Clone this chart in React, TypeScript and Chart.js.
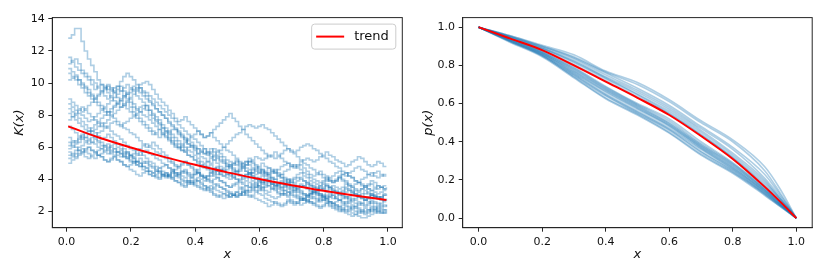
import React, { useEffect, useRef } from 'react';
import { Chart, registerables } from 'chart.js';
Chart.register(...registerables);

const FONT = "'DejaVu Sans', sans-serif";
const BLUE = 'rgba(31,119,180,0.36)';
const RED = '#ff0000';

// ---- Left panel: K(x) step paths (100 bins, centres 0.005 ... 0.995) ----
const KX = Array.from({ length: 100 }, (_, i) => Math.round((0.005 + 0.01 * i) * 1000) / 1000);

const K1 = [12.8,13.0,13.4,13.4,12.6,12.0,11.5,11.1,10.7,10.2,9.9,9.8,9.6,9.5,9.7,9.8,9.5,9.2,9.0,8.8,8.5,8.3,8.5,8.6,8.3,8.0,7.8,7.6,7.4,7.2,7.0,6.9,7.1,7.1,6.8,6.6,6.4,6.2,6.1,6.0,5.9,5.8,5.6,5.5,5.7,5.9,5.8,5.6,5.4,5.2,5.1,5.0,4.9,4.8,5.0,5.1,4.9,4.7,4.5,4.4,4.3,4.2,4.4,4.5,4.4,4.3,4.1,4.0,3.9,3.8,4.0,4.1,4.0,3.9,3.7,3.6,3.5,3.4,3.6,3.7,3.6,3.5,3.3,3.2,3.1,3.0,3.2,3.3,3.2,3.1,3.0,2.9,3.1,3.2,3.1,3.0,2.9,2.8,3.0,3.1];
const K2 = [11.6,11.3,11.0,10.8,10.6,10.4,10.2,9.9,9.6,9.8,9.9,9.7,9.4,9.1,8.9,8.7,8.5,8.6,8.8,8.5,8.2,8.0,7.8,7.6,7.4,7.2,7.0,6.8,6.6,6.8,6.9,6.6,6.4,6.2,6.0,5.8,5.7,5.5,5.4,5.2,5.0,4.8,4.7,4.8,4.9,4.7,4.5,4.3,4.2,4.3,4.4,4.2,4.0,3.9,3.8,3.9,4.1,3.9,3.7,3.5,3.4,3.5,3.6,3.4,3.3,3.1,3.0,3.1,3.2,3.0,2.9,2.8,2.7,2.8,3.0,2.9,2.8,2.7,2.6,2.7,2.8,2.6,2.5,2.4,2.3,2.4,2.6,2.5,2.4,2.3,2.2,2.1,2.0,2.1,2.3,2.2,2.1,2.0,1.9,2.0];
const K3 = [11.2,11.4,11.5,11.2,10.8,10.6,10.4,10.2,10.0,9.7,9.5,9.2,9.0,9.2,9.4,9.6,9.8,9.5,9.3,9.0,8.7,8.4,8.2,8.4,8.6,8.3,8.0,7.7,7.5,7.2,7.0,6.8,6.6,6.4,6.2,6.0,5.8,6.0,6.1,5.9,5.6,5.4,5.3,5.1,5.0,5.2,5.4,5.2,5.1,4.9,4.8,4.6,4.5,4.6,4.7,4.5,4.3,4.1,4.0,4.1,4.2,4.0,3.9,3.7,3.6,3.7,3.8,3.6,3.5,3.4,3.3,3.4,3.6,3.5,3.4,3.2,3.1,3.0,2.9,3.0,3.2,3.1,3.0,2.8,2.7,2.6,2.5,2.6,2.8,2.7,2.6,2.5,2.4,2.5,2.7,2.6,2.5,2.4,2.3,2.4];
const K4 = [10.9,10.7,10.5,10.2,10.0,9.8,9.6,9.3,9.1,9.3,9.5,9.7,9.9,9.7,9.5,9.8,10.1,10.4,10.6,10.4,10.2,9.9,9.7,9.4,9.2,8.9,8.7,8.4,8.2,8.0,7.8,7.5,7.3,7.1,6.9,6.7,6.5,6.2,6.0,5.8,5.6,5.7,5.9,5.6,5.4,5.2,5.0,4.8,4.7,4.8,4.9,4.7,4.5,4.3,4.2,4.3,4.4,4.2,4.0,3.9,3.7,3.8,3.9,3.7,3.6,3.5,3.4,3.5,3.7,3.6,3.5,3.3,3.2,3.1,3.0,3.1,3.3,3.2,3.1,2.9,2.8,2.9,3.0,2.8,2.7,2.8,2.9,2.7,2.6,2.5,2.4,2.5,2.7,2.6,2.5,2.3,2.2,2.3,2.4,2.3];
const K5 = [10.6,10.4,10.2,9.9,9.7,9.4,9.2,9.0,8.8,8.6,8.4,8.2,8.0,8.2,8.5,8.7,8.9,9.1,9.3,9.4,9.6,9.7,9.9,10.0,10.1,9.9,9.6,9.3,9.0,8.8,8.6,8.3,8.1,7.8,7.6,7.7,7.9,7.6,7.4,7.2,7.0,6.8,6.6,6.7,6.9,6.6,6.4,6.2,6.0,5.8,5.7,5.5,5.3,5.1,5.0,5.1,5.3,5.1,4.9,4.7,4.6,4.4,4.3,4.4,4.6,4.4,4.3,4.1,4.0,3.9,3.8,3.9,4.1,3.9,3.8,3.7,3.6,3.5,3.4,3.5,3.7,3.5,3.4,3.3,3.2,3.3,3.5,3.4,3.3,3.1,3.0,2.9,2.8,2.9,3.1,3.0,2.9,2.8,2.7,2.8];
const K6 = [10.2,10.3,10.4,10.2,9.9,9.7,9.4,9.2,9.0,8.8,8.6,8.4,8.2,8.0,7.8,7.6,7.4,7.2,7.1,6.9,6.8,6.6,6.4,6.2,6.0,6.1,6.3,6.1,5.9,5.7,5.5,5.3,5.1,4.9,4.8,4.9,5.1,4.9,4.7,4.5,4.4,4.2,4.1,4.2,4.4,4.2,4.1,3.9,3.8,3.6,3.5,3.6,3.7,3.5,3.4,3.3,3.2,3.3,3.5,3.4,3.3,3.1,3.0,2.9,2.8,2.9,3.1,3.0,2.9,2.7,2.6,2.5,2.4,2.5,2.7,2.6,2.5,2.6,2.8,2.7,2.6,2.5,2.4,2.3,2.2,2.1,2.0,2.1,2.3,2.2,2.1,2.0,1.9,2.0,2.2,2.1,2.0,2.1,2.1,2.0];
const K7 = [9.0,8.8,8.6,8.4,8.2,8.4,8.6,8.8,9.0,9.2,9.4,9.6,9.8,9.6,9.4,9.1,8.9,8.6,8.4,8.2,8.0,7.8,7.6,7.4,7.2,7.0,6.8,6.9,7.1,6.8,6.6,6.4,6.2,6.0,5.9,6.1,6.3,6.5,6.7,6.8,7.0,6.8,6.6,6.7,6.9,7.1,7.3,7.5,7.7,7.9,8.1,7.8,7.6,7.3,7.1,6.8,6.6,6.4,6.2,6.0,5.8,5.6,5.4,5.5,5.7,5.5,5.3,5.1,5.0,4.8,4.7,4.8,4.9,4.7,4.5,4.3,4.2,4.3,4.5,4.3,4.2,4.0,3.9,4.0,4.2,4.0,3.9,3.7,3.6,3.7,3.8,3.6,3.5,3.4,3.3,3.4,3.6,3.5,3.4,3.4];
const K8 = [8.7,8.5,8.3,8.1,8.0,7.8,7.6,7.7,7.9,8.1,8.3,8.5,8.7,8.9,9.1,9.3,9.5,9.7,9.9,9.7,9.5,9.2,9.0,8.8,8.6,8.3,8.1,7.9,7.7,7.4,7.2,7.0,6.8,6.6,6.4,6.2,6.0,5.8,5.7,5.5,5.3,5.1,5.0,5.1,5.3,5.5,5.7,5.8,6.0,6.2,6.4,6.6,6.8,6.9,7.1,7.3,7.4,7.3,7.2,7.3,7.4,7.2,7.1,6.9,6.7,6.5,6.3,6.1,5.9,5.7,5.6,5.4,5.2,5.0,4.9,4.7,4.6,4.4,4.3,4.1,4.0,3.9,3.8,3.9,4.1,3.9,3.8,3.6,3.5,3.4,3.3,3.4,3.6,3.4,3.3,3.2,3.1,3.2,3.3,3.3];
const K9 = [8.4,8.2,8.0,7.8,7.6,7.4,7.2,7.0,6.9,6.7,6.5,6.6,6.8,6.6,6.4,6.2,6.1,5.9,5.7,5.5,5.4,5.5,5.7,5.5,5.3,5.1,5.0,4.8,4.7,4.8,4.9,4.7,4.6,4.4,4.3,4.4,4.5,4.3,4.2,4.3,4.4,4.2,4.1,4.2,4.4,4.5,4.7,4.6,4.5,4.6,4.8,4.9,5.1,4.9,4.8,4.9,5.1,5.2,5.4,5.3,5.2,5.3,5.5,5.4,5.3,5.4,5.6,5.8,5.9,5.8,5.7,5.8,6.0,6.1,6.2,6.1,5.9,5.8,5.6,5.4,5.3,5.1,5.0,4.8,4.7,4.5,4.4,4.2,4.1,3.9,3.8,3.7,3.6,3.7,3.9,3.8,3.6,3.5,3.4,3.5];
const K10 = [8.1,7.9,7.7,7.5,7.3,7.1,7.0,6.8,6.6,6.4,6.3,6.1,6.0,5.8,5.7,5.5,5.4,5.5,5.7,5.5,5.3,5.1,5.0,4.8,4.7,4.5,4.4,4.5,4.7,4.5,4.4,4.2,4.1,4.2,4.4,4.2,4.1,3.9,3.8,3.9,4.1,4.0,3.9,4.0,4.2,4.3,4.5,4.3,4.2,4.1,4.0,4.1,4.3,4.2,4.0,4.1,4.3,4.4,4.6,4.5,4.4,4.5,4.7,4.6,4.5,4.6,4.8,4.9,5.0,4.9,4.8,4.9,5.1,5.2,5.3,5.2,5.1,5.2,5.4,5.5,5.7,5.5,5.4,5.2,5.1,5.0,4.8,4.9,5.1,5.2,5.4,5.3,5.1,4.9,4.8,4.9,5.1,5.0,4.8,4.8];
const K11 = [7.7,7.9,8.1,8.3,8.5,8.3,8.1,7.9,7.7,7.5,7.3,7.5,7.7,7.9,8.1,8.3,8.5,8.7,8.9,9.1,9.3,9.5,9.7,9.5,9.4,9.2,9.0,8.8,8.6,8.4,8.2,8.0,7.8,7.6,7.4,7.2,7.0,6.8,6.6,6.5,6.3,6.1,5.9,5.7,5.6,5.4,5.3,5.1,5.0,4.8,4.7,4.5,4.4,4.5,4.7,4.5,4.4,4.2,4.1,3.9,3.8,3.9,4.0,3.8,3.7,3.6,3.5,3.6,3.8,3.6,3.5,3.4,3.3,3.1,3.0,3.1,3.3,3.2,3.1,3.0,2.9,3.0,3.2,3.1,3.0,2.9,2.8,2.9,3.1,3.0,2.9,2.8,2.7,2.8,3.0,2.9,2.8,2.7,2.6,2.6];
const K12 = [7.3,7.1,6.9,6.7,6.6,6.4,6.2,6.3,6.5,6.3,6.1,6.0,5.8,5.6,5.5,5.7,5.8,5.6,5.4,5.2,5.1,4.9,4.8,5.0,5.1,4.9,4.8,4.6,4.5,4.3,4.2,4.3,4.5,4.3,4.2,4.0,3.9,3.8,3.7,3.8,3.9,3.8,3.6,3.5,3.4,3.5,3.7,3.5,3.4,3.3,3.2,3.1,3.0,3.1,3.3,3.1,3.0,2.9,2.8,2.7,2.6,2.5,2.3,2.4,2.6,2.5,2.4,2.5,2.7,2.6,2.5,2.6,2.8,2.7,2.6,2.5,2.4,2.3,2.2,2.3,2.5,2.4,2.3,2.2,2.1,2.0,1.9,1.8,1.7,1.8,2.0,1.9,1.8,1.9,2.1,2.0,1.9,1.9,2.0,2.0];
const K13 = [6.6,6.4,6.3,6.5,6.7,6.9,7.0,7.2,7.4,7.6,7.8,8.0,8.2,8.4,8.6,8.8,9.0,9.2,9.4,9.6,9.8,9.6,9.4,9.2,9.0,8.8,8.6,8.4,8.2,8.0,7.8,7.6,7.4,7.2,7.0,6.8,6.6,6.4,6.3,6.1,5.9,5.7,5.6,5.7,5.9,5.7,5.5,5.4,5.2,5.0,4.9,5.0,5.2,5.0,4.9,4.7,4.6,4.4,4.3,4.4,4.6,4.4,4.3,4.1,4.0,3.8,3.7,3.8,4.0,3.8,3.7,3.6,3.5,3.6,3.8,3.6,3.5,3.4,3.3,3.4,3.6,3.4,3.3,3.2,3.1,3.2,3.4,3.3,3.2,3.0,2.9,2.8,2.7,2.8,3.0,2.9,2.8,2.9,3.0,3.0];
const K14 = [6.3,6.1,6.0,5.8,5.7,5.8,6.0,5.8,5.7,5.5,5.4,5.2,5.1,5.2,5.4,5.2,5.1,4.9,4.8,4.9,5.1,4.9,4.8,4.6,4.5,4.3,4.2,4.3,4.5,4.3,4.2,4.3,4.5,4.6,4.8,5.0,5.1,4.9,4.8,4.6,4.5,4.3,4.2,4.0,3.9,3.7,3.6,3.5,3.4,3.2,3.1,3.0,2.9,3.0,3.2,3.0,2.9,3.0,3.2,3.3,3.5,3.6,3.8,3.7,3.6,3.7,3.9,3.7,3.6,3.5,3.4,3.5,3.7,3.6,3.5,3.3,3.2,3.1,3.0,2.9,2.7,2.6,2.5,2.6,2.7,2.5,2.4,2.3,2.2,2.3,2.5,2.4,2.3,2.4,2.6,2.5,2.4,2.5,2.7,2.7];
const K15 = [6.1,6.3,6.4,6.6,6.8,6.6,6.5,6.3,6.2,6.0,5.9,5.7,5.6,5.7,5.9,5.7,5.6,5.4,5.3,5.1,5.0,5.1,5.3,5.1,5.0,4.8,4.7,4.5,4.4,4.2,4.1,4.2,4.4,4.2,4.1,3.9,3.8,3.9,4.1,4.0,3.9,3.7,3.6,3.4,3.3,3.1,3.0,2.9,2.8,2.9,3.1,3.0,2.9,3.0,3.2,3.3,3.5,3.4,3.3,3.1,3.0,2.8,2.7,2.6,2.5,2.4,2.3,2.4,2.6,2.5,2.4,2.5,2.7,2.8,2.9,3.1,3.2,3.1,3.0,2.9,2.8,2.6,2.5,2.4,2.3,2.2,2.1,2.0,1.9,1.8,1.7,1.6,1.6,1.7,1.8,1.9,2.0,1.9,1.9,1.9];
const K16 = [5.9,6.0,6.2,6.3,6.5,6.6,6.8,7.0,7.1,7.3,7.5,7.3,7.2,7.0,6.8,6.7,6.5,6.3,6.1,5.9,5.8,5.6,5.5,5.7,5.8,5.6,5.5,5.3,5.2,5.0,4.9,4.7,4.6,4.4,4.3,4.5,4.6,4.4,4.3,4.4,4.6,4.8,4.9,4.7,4.6,4.4,4.3,4.4,4.6,4.4,4.3,4.1,4.0,3.8,3.7,3.6,3.5,3.7,3.8,3.6,3.5,3.3,3.2,3.4,3.5,3.4,3.3,3.1,3.0,3.2,3.3,3.2,3.1,3.0,2.9,3.0,3.2,3.3,3.5,3.4,3.3,3.5,3.6,3.5,3.4,3.5,3.7,3.6,3.5,3.3,3.2,3.4,3.5,3.6,3.7,3.5,3.4,3.5,3.6,3.6];
const K17 = [5.7,5.5,5.4,5.6,5.7,5.9,6.0,5.8,5.7,5.5,5.4,5.2,5.1,5.3,5.4,5.2,5.1,4.9,4.8,4.6,4.5,4.3,4.2,4.4,4.5,4.3,4.2,4.1,4.0,4.2,4.3,4.1,4.0,3.9,3.8,3.7,3.6,3.8,3.9,3.7,3.6,3.5,3.4,3.3,3.2,3.0,2.9,3.0,3.1,3.0,2.9,3.0,3.2,3.1,3.0,3.2,3.3,3.5,3.6,3.8,3.9,3.7,3.6,3.5,3.4,3.2,3.1,3.3,3.4,3.3,3.2,3.0,2.9,2.8,2.7,2.6,2.5,2.4,2.3,2.4,2.5,2.3,2.2,2.1,2.0,2.1,2.3,2.2,2.1,2.0,1.9,2.0,2.2,2.1,2.0,2.1,2.3,2.2,2.1,2.1];
const K18 = [5.5,5.6,5.8,6.0,6.1,6.3,6.4,6.6,6.7,6.9,7.0,7.2,7.3,7.5,7.6,7.4,7.3,7.5,7.6,7.8,7.9,8.1,8.2,8.0,7.9,7.7,7.5,7.3,7.1,6.9,6.7,6.5,6.3,6.1,6.0,5.8,5.7,5.5,5.4,5.2,5.1,4.9,4.8,4.6,4.5,4.6,4.8,4.6,4.5,4.3,4.2,4.4,4.5,4.7,4.8,4.9,5.1,5.0,4.8,4.6,4.5,4.3,4.2,4.1,4.0,4.2,4.3,4.5,4.6,4.8,4.9,4.7,4.6,4.4,4.3,4.1,4.0,3.9,3.8,3.9,4.1,3.9,3.8,3.9,4.1,4.3,4.4,4.2,4.1,3.9,3.8,4.0,4.1,4.3,4.4,4.2,4.1,4.2,4.3,4.3];
const K19 = [5.3,5.4,5.6,5.8,5.9,5.7,5.6,5.4,5.3,5.5,5.6,5.8,5.9,6.1,6.2,6.0,5.9,5.7,5.6,5.4,5.3,5.1,5.0,4.8,4.7,4.5,4.4,4.2,4.1,4.3,4.4,4.2,4.1,3.9,3.8,3.6,3.5,3.7,3.8,3.6,3.5,3.4,3.3,3.5,3.6,3.4,3.3,3.2,3.1,3.0,2.9,3.0,3.2,3.4,3.5,3.6,3.8,3.6,3.5,3.6,3.8,4.0,4.1,4.0,3.8,3.6,3.5,3.3,3.2,3.1,3.0,2.9,2.8,2.7,2.6,2.8,2.9,2.8,2.7,2.8,3.0,2.9,2.8,2.9,3.1,3.0,2.9,2.8,2.7,2.8,3.0,3.1,3.3,3.1,3.0,2.9,2.8,2.9,3.1,3.1];
const K20 = [5.0,5.2,5.3,5.5,5.6,5.4,5.3,5.5,5.6,5.8,5.9,6.1,6.2,6.0,5.9,5.7,5.6,5.4,5.3,5.5,5.6,5.8,5.9,6.1,6.2,6.0,5.9,5.7,5.6,5.4,5.3,5.1,5.0,4.8,4.7,4.5,4.4,4.2,4.1,4.3,4.4,4.2,4.1,3.9,3.8,4.0,4.1,3.9,3.8,3.6,3.5,3.7,3.8,4.0,4.1,4.3,4.4,4.6,4.7,4.8,5.0,4.8,4.7,4.5,4.4,4.2,4.1,3.9,3.8,4.0,4.1,4.3,4.4,4.2,4.1,3.9,3.8,3.7,3.6,3.8,3.9,4.1,4.2,4.4,4.5,4.3,4.2,4.4,4.5,4.7,4.8,4.6,4.5,4.3,4.2,4.4,4.5,4.3,4.2,4.2];
const K_SERIES = [K1,K2,K3,K4,K5,K6,K7,K8,K9,K10,K11,K12,K13,K14,K15,K16,K17,K18,K19,K20];

const K_TREND_X = [0.005,0.1,0.2,0.3,0.4,0.5,0.6,0.7,0.8,0.9,0.995];
const K_TREND = [7.3,6.6,5.98,5.41,4.9,4.43,4.01,3.63,3.28,2.97,2.71];

const K_XTICKS = [0,0.2,0.4,0.6,0.8,1.0];
const K_YTICKS = [2,4,6,8,10,12,14];

// ---- Right panel: p(x) curves ----
const PX = [0,0.1,0.2,0.3,0.4,0.5,0.6,0.7,0.8,0.9,0.95,1.0];
const P1 = [1,0.955,0.905,0.855,0.77,0.71,0.62,0.51,0.41,0.27,0.15,0];
const P2 = [1,0.955,0.90,0.845,0.765,0.70,0.61,0.50,0.40,0.25,0.13,0];
const P3 = [1,0.95,0.90,0.84,0.76,0.68,0.59,0.48,0.37,0.23,0.12,0];
const P4 = [1,0.95,0.895,0.835,0.75,0.67,0.58,0.47,0.36,0.21,0.11,0];
const P5 = [1,0.95,0.89,0.825,0.74,0.66,0.57,0.46,0.34,0.20,0.10,0];
const P6 = [1,0.945,0.89,0.82,0.735,0.65,0.56,0.45,0.33,0.19,0.10,0];
const P7 = [1,0.945,0.885,0.815,0.73,0.645,0.55,0.44,0.32,0.18,0.095,0];
const P8 = [1,0.94,0.88,0.805,0.72,0.635,0.545,0.435,0.315,0.17,0.09,0];
const P9 = [1,0.94,0.875,0.79,0.69,0.60,0.52,0.40,0.29,0.16,0.085,0];
const P10 = [1,0.94,0.87,0.785,0.685,0.595,0.51,0.39,0.285,0.155,0.08,0];
const P11 = [1,0.935,0.87,0.78,0.68,0.59,0.50,0.385,0.28,0.15,0.08,0];
const P12 = [1,0.935,0.865,0.775,0.675,0.585,0.495,0.38,0.275,0.15,0.075,0];
const P13 = [1,0.935,0.865,0.77,0.67,0.58,0.49,0.375,0.27,0.145,0.075,0];
const P14 = [1,0.93,0.86,0.765,0.665,0.575,0.485,0.37,0.265,0.14,0.07,0];
const P15 = [1,0.93,0.86,0.76,0.66,0.57,0.48,0.365,0.26,0.14,0.07,0];
const P16 = [1,0.93,0.855,0.755,0.65,0.56,0.47,0.36,0.255,0.135,0.07,0];
const P17 = [1,0.925,0.855,0.75,0.645,0.555,0.465,0.35,0.25,0.13,0.065,0];
const P18 = [1,0.925,0.85,0.745,0.64,0.55,0.46,0.345,0.245,0.13,0.065,0];
const P19 = [1,0.925,0.85,0.74,0.63,0.545,0.45,0.335,0.24,0.125,0.06,0];
const P20 = [1,0.92,0.845,0.735,0.625,0.54,0.445,0.33,0.235,0.12,0.06,0];
const P_SERIES = [P1,P2,P3,P4,P5,P6,P7,P8,P9,P10,P11,P12,P13,P14,P15,P16,P17,P18,P19,P20];
const P_TREND = [1,0.94,0.88,0.80,0.715,0.63,0.54,0.43,0.31,0.165,0.085,0];

const P_XTICKS = [0,0.2,0.4,0.6,0.8,1.0];
const P_YTICKS = [0,0.2,0.4,0.6,0.8,1.0];

type PanelSpec = {
  datasets: any[];
  xMin: number; xMax: number; yMin: number; yMax: number;
  xTicks: number[]; yTicks: number[];
  yDecimals: number;
  yTitle: string;
  area: { left: number; right: number; top: number; bottom: number };
  yTitlePad: number;
  legend: boolean;
};

const W = 415, H = 277;
const AXIS = '#262626';

const framePlugin = {
  id: 'frameAndLegend',
  afterDraw(chart: any, _args: any, opts: any) {
    const { ctx, chartArea: a } = chart;
    ctx.save();
    ctx.strokeStyle = AXIS;
    ctx.lineWidth = 1;
    ctx.strokeRect(a.left, a.top, a.right - a.left, a.bottom - a.top);
    if (opts && opts.show) {
      const ds = chart.data.datasets.find((d: any) => d.label);
      if (ds) {
        ctx.font = `13px ${FONT}`;
        const tw = ctx.measureText(ds.label).width;
        const bw = 4.5 + 28 + 10 + tw + 7;
        const bh = 25;
        const bx = a.right - 6.5 - bw;
        const by = a.top + 6.5;
        const r = 3;
        ctx.beginPath();
        ctx.moveTo(bx + r, by);
        ctx.arcTo(bx + bw, by, bx + bw, by + bh, r);
        ctx.arcTo(bx + bw, by + bh, bx, by + bh, r);
        ctx.arcTo(bx, by + bh, bx, by, r);
        ctx.arcTo(bx, by, bx + bw, by, r);
        ctx.closePath();
        ctx.fillStyle = 'rgba(255,255,255,0.8)';
        ctx.fill();
        ctx.strokeStyle = '#cccccc';
        ctx.lineWidth = 1;
        ctx.stroke();
        ctx.beginPath();
        ctx.strokeStyle = ds.borderColor;
        ctx.lineWidth = 2;
        ctx.moveTo(bx + 4.5, by + bh / 2);
        ctx.lineTo(bx + 32.5, by + bh / 2);
        ctx.stroke();
        ctx.fillStyle = '#111';
        ctx.textBaseline = 'middle';
        ctx.textAlign = 'left';
        ctx.fillText(ds.label, bx + 42.5, by + bh / 2 + 0.5);
      }
    }
    ctx.restore();
  },
};

function makeConfig(p: PanelSpec): any {
  const tickFont = { family: FONT, size: 11 };
  const titleFont = { family: FONT, size: 13, style: 'italic' as const };
  return {
    type: 'line',
    data: { datasets: p.datasets },
    options: {
      animation: false,
      responsive: false,
      events: [],
      layout: { padding: { left: 0, top: p.area.top, right: W - p.area.right, bottom: 0 } },
      plugins: {
        legend: { display: false },
        tooltip: { enabled: false },
        frameAndLegend: { show: p.legend },
      },
      elements: { point: { radius: 0 } },
      scales: {
        x: {
          type: 'linear',
          min: p.xMin, max: p.xMax,
          afterBuildTicks: (s: any) => { s.ticks = p.xTicks.map((v) => ({ value: v })); },
          afterFit: (s: any) => { s.height = H - p.area.bottom; },
          ticks: { font: tickFont, color: '#111', padding: 4, maxRotation: 0, autoSkip: false,
            callback: (v: any) => Number(v).toFixed(1) },
          grid: { drawOnChartArea: false, drawTicks: true, tickLength: 4, color: AXIS, lineWidth: 1 },
          border: { display: true, color: AXIS, width: 1 },
          title: { display: true, text: 'x', font: titleFont, color: '#111', padding: { top: 0, bottom: 14.2 } },
        },
        y: {
          type: 'linear',
          min: p.yMin, max: p.yMax,
          afterBuildTicks: (s: any) => { s.ticks = p.yTicks.map((v) => ({ value: v })); },
          afterFit: (s: any) => { s.width = p.area.left; },
          ticks: { font: tickFont, color: '#111', padding: 3.6, autoSkip: false,
            callback: (v: any) => Number(v).toFixed(p.yDecimals) },
          grid: { drawOnChartArea: false, drawTicks: true, tickLength: 4, color: AXIS, lineWidth: 1 },
          border: { display: true, color: AXIS, width: 1 },
          title: { display: true, text: p.yTitle, font: titleFont, color: '#111', padding: { top: p.yTitlePad, bottom: 0 } },
        },
      },
    },
    plugins: [framePlugin],
  };
}

function Panel({ spec, left }: { spec: PanelSpec; left: number }) {
  const ref = useRef<HTMLCanvasElement>(null);
  useEffect(() => {
    if (!ref.current) return;
    const chart = new Chart(ref.current, makeConfig(spec));
    return () => chart.destroy();
  }, []);
  return (
    <div style={{ position: 'absolute', left, top: 0, width: W, height: H }}>
      <canvas ref={ref} width={W} height={H} style={{ width: W, height: H, display: 'block' }} />
    </div>
  );
}

const leftSpec: PanelSpec = {
  datasets: [
    ...K_SERIES.map((s) => ({
      data: s.map((y, i) => ({ x: KX[i], y })),
      borderColor: BLUE, borderWidth: 1.6, stepped: 'before', fill: false, pointRadius: 0, order: 1,
    })),
    {
      label: 'trend',
      data: K_TREND_X.map((x, i) => ({ x, y: K_TREND[i] })),
      borderColor: RED, borderWidth: 2, cubicInterpolationMode: 'monotone', fill: false, pointRadius: 0, order: 0,
    },
  ],
  xMin: -0.0445, xMax: 1.0445, yMin: 0.98, yMax: 14.08,
  xTicks: K_XTICKS, yTicks: K_YTICKS, yDecimals: 0,
  yTitle: 'K(x)',
  area: { left: 52.3, right: 402.3, top: 17.6, bottom: 227.7 },
  yTitlePad: 12.2,
  legend: true,
};

const rightSpec: PanelSpec = {
  datasets: [
    ...P_SERIES.map((s) => ({
      data: PX.map((x, i) => ({ x, y: s[i] })),
      borderColor: BLUE, borderWidth: 1.6, cubicInterpolationMode: 'monotone', fill: false, pointRadius: 0, order: 1,
    })),
    {
      data: PX.map((x, i) => ({ x, y: P_TREND[i] })),
      borderColor: RED, borderWidth: 2, cubicInterpolationMode: 'monotone', fill: false, pointRadius: 0, order: 0,
    },
  ],
  xMin: -0.05, xMax: 1.05, yMin: -0.05, yMax: 1.05,
  xTicks: P_XTICKS, yTicks: P_YTICKS, yDecimals: 1,
  yTitle: 'p(x)',
  area: { left: 47.7, right: 397.2, top: 17.6, bottom: 227.7 },
  yTitlePad: 5.5,
  legend: false,
};

export default function App() {
  useEffect(() => {
    document.body.style.margin = '0';
    document.body.style.background = '#fff';
  }, []);
  return (
    <div style={{ position: 'fixed', left: 0, top: 0, width: 830, height: 277, background: '#fff' }}>
      <Panel spec={leftSpec} left={0} />
      <Panel spec={rightSpec} left={415} />
    </div>
  );
}
